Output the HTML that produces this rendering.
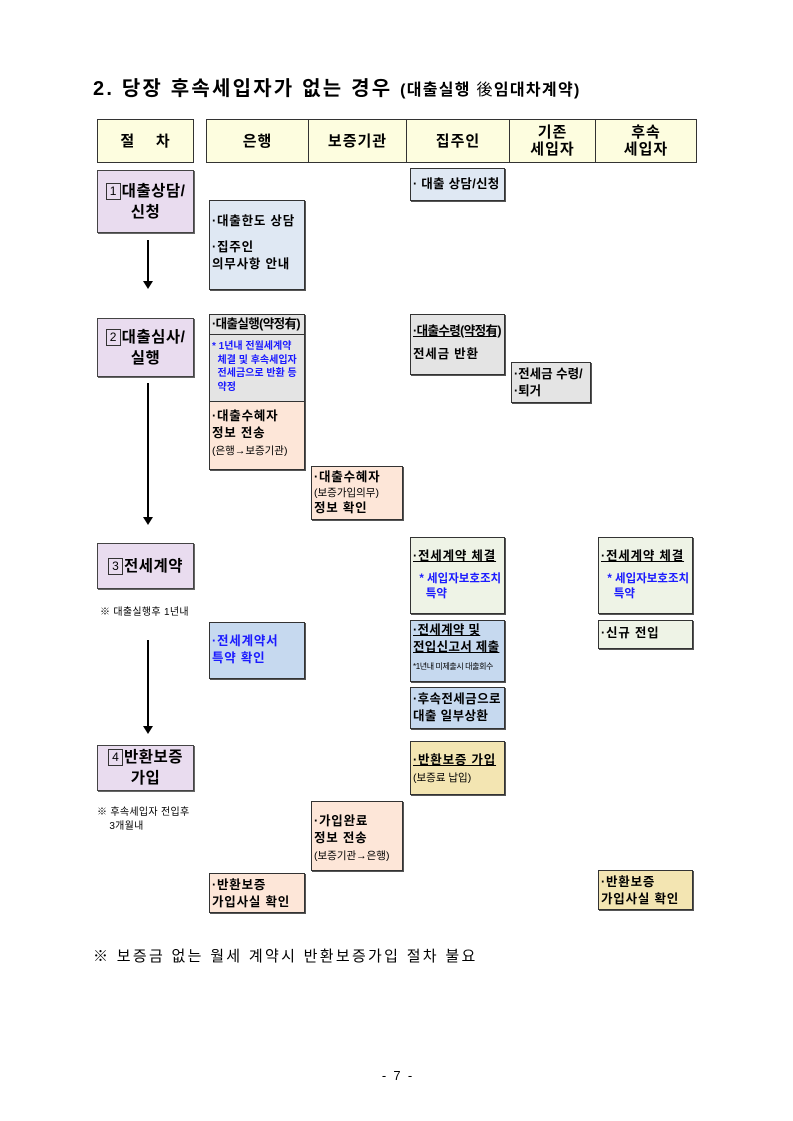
<!DOCTYPE html>
<html><head><meta charset="utf-8"><style>
body{margin:0;width:793px;height:1121px;background:#fff;position:relative;overflow:hidden;font-family:"Liberation Sans","Noto Sans CJK KR","NanumGothic",sans-serif;color:#000}
.a{position:absolute;box-sizing:border-box}
.b{position:absolute;box-sizing:border-box;border:1.5px solid #333;box-shadow:1px 1px 0 #555;font-weight:bold;font-size:12.5px;line-height:17px;padding:2px 2px;letter-spacing:0.8px;white-space:nowrap;overflow:hidden}
.h{position:absolute;box-sizing:border-box;border:1px solid #333;background:#fdfddf;font-weight:bold;font-size:15px;line-height:17px;display:flex;align-items:center;justify-content:center;text-align:center;letter-spacing:1px}
.s{position:absolute;box-sizing:border-box;border:1.5px solid #444;box-shadow:1px 1px 0 #666;background:#e9dcef;font-weight:bold;font-size:15.5px;line-height:21px;display:flex;align-items:center;justify-content:center;text-align:center;letter-spacing:0.5px}
.sm{font-size:10.5px;font-weight:normal;letter-spacing:0}
.bl{color:#1a1aff}
.u{text-decoration:underline}
.sq{display:inline-block;border:1px solid #333;width:13px;height:15px;line-height:15px;font-size:12px;font-weight:normal;text-align:center;margin-right:1px;vertical-align:1px;letter-spacing:0}
.ar{position:absolute;left:147px;width:1.5px;background:#000}
.ah{position:absolute;left:143px;width:0;height:0;border-left:5px solid transparent;border-right:5px solid transparent;border-top:8px solid #000}
</style></head><body>
<div class="a" style="left:93px;top:72px;font-size:20px;font-weight:bold;white-space:nowrap;letter-spacing:2.2px">2. 당장 후속세입자가 없는 경우 <span style="font-size:16px;letter-spacing:1.3px">(대출실행 <span style="font-weight:normal">後</span>임대차계약)</span></div>

<div class="h" style="left:97px;top:119px;width:97px;height:44px">절&nbsp;&nbsp;&nbsp;&nbsp;차</div>
<div class="h" style="left:206px;top:119px;width:103px;height:44px">은행</div>
<div class="h" style="left:308px;top:119px;width:99px;height:44px">보증기관</div>
<div class="h" style="left:406px;top:119px;width:104px;height:44px">집주인</div>
<div class="h" style="left:509px;top:119px;width:87px;height:44px">기존<br>세입자</div>
<div class="h" style="left:595px;top:119px;width:102px;height:44px">후속<br>세입자</div>

<div class="s" style="left:97px;top:170px;width:97px;height:63px"><div><span class="sq">1</span>대출상담/<br>신청</div></div>
<div class="s" style="left:97px;top:318px;width:97px;height:59px"><div><span class="sq">2</span>대출심사/<br>실행</div></div>
<div class="s" style="left:97px;top:543px;width:97px;height:46px"><div><span class="sq">3</span>전세계약</div></div>
<div class="s" style="left:97px;top:745px;width:97px;height:46px"><div><span class="sq">4</span>반환보증<br>가입</div></div>

<div class="ar" style="top:240px;height:42px"></div><div class="ah" style="top:281px"></div>
<div class="ar" style="top:383px;height:135px"></div><div class="ah" style="top:517px"></div>
<div class="ar" style="top:640px;height:87px"></div><div class="ah" style="top:726px"></div>

<div class="a" style="left:100px;top:603px;font-size:10px;letter-spacing:0.3px">※ 대출실행후 1년내</div>
<div class="a" style="left:97px;top:806px;font-size:10px;line-height:14px;letter-spacing:0.3px">※ 후속세입자 전입후<br>&nbsp;&nbsp;&nbsp;&nbsp;3개월내</div>

<div class="b" style="left:410px;top:168px;width:95px;height:33px;background:#dfe8f3;padding-top:7px;letter-spacing:0.3px">· 대출 상담/신청</div>
<div class="b" style="left:209px;top:200px;width:96px;height:90px;background:#dfe8f3;padding-top:12px">·대출한도 상담<div style="height:9px"></div>·집주인<br>의무사항 안내</div>

<div class="b" style="left:209px;top:314px;width:96px;height:156px;background:#fde6d8;padding:0">
 <div style="background:#e4e4e4;height:86px;border-bottom:1px solid #333"><div style="border-bottom:1px solid #333;padding:1px 2px;letter-spacing:-0.6px">·대출실행(약정有)</div><div class="bl" style="font-size:10px;line-height:13.5px;margin-top:5px;padding-left:2px;letter-spacing:0">* 1년내 전월세계약<br>&nbsp;&nbsp;체결 및 후속세입자<br>&nbsp;&nbsp;전세금으로 반환 등<br>&nbsp;&nbsp;약정</div></div>
 <div style="padding:6px 2px 0">·대출수혜자<br>정보 전송<br><span class="sm">(은행→보증기관)</span></div>
</div>

<div class="b" style="left:410px;top:314px;width:95px;height:61px;background:#e4e4e4;padding-top:8px"><span class="u" style="letter-spacing:-0.6px">·대출수령(약정有)</span><div style="height:6px"></div>전세금 반환</div>
<div class="b" style="left:511px;top:362px;width:80px;height:41px;background:#e4e4e4;padding-top:3px;letter-spacing:0">·전세금 수령/<br>·퇴거</div>
<div class="b" style="left:311px;top:466px;width:92px;height:54px;background:#fde6d8;line-height:15px;padding-top:3px">·대출수혜자<br><span class="sm">(보증가입의무)</span><br>정보 확인</div>

<div class="b" style="left:410px;top:537px;width:95px;height:77px;background:#eef3e6;padding-top:10px"><span class="u">·전세계약 체결</span><div class="bl" style="font-size:11.5px;line-height:15px;margin-top:7px;letter-spacing:0">&nbsp;&nbsp;*&nbsp;세입자보호조치<br>&nbsp;&nbsp;&nbsp;&nbsp;특약</div></div>
<div class="b" style="left:598px;top:537px;width:95px;height:77px;background:#eef3e6;padding-top:10px"><span class="u">·전세계약 체결</span><div class="bl" style="font-size:11.5px;line-height:15px;margin-top:7px;letter-spacing:0">&nbsp;&nbsp;*&nbsp;세입자보호조치<br>&nbsp;&nbsp;&nbsp;&nbsp;특약</div></div>

<div class="b bl" style="left:209px;top:622px;width:96px;height:57px;background:#c6d9ef;padding-top:10px">·전세계약서<br>특약 확인</div>
<div class="b" style="left:410px;top:620px;width:95px;height:62px;background:#c6d9ef;padding-top:1px;letter-spacing:0.3px"><span class="u">·전세계약 및</span><br><span class="u">전입신고서 제출</span><div style="font-size:8px;font-weight:normal;line-height:10px;margin-top:6px;letter-spacing:-0.4px">*1년내 미제출시 대출회수</div></div>
<div class="b" style="left:598px;top:620px;width:95px;height:29px;background:#eef3e6;padding-top:4px">·신규 전입</div>
<div class="b" style="left:410px;top:687px;width:95px;height:42px;background:#c6d9ef;padding-top:3px;letter-spacing:0.4px">·후속전세금으로<br>대출 일부상환</div>

<div class="b" style="left:410px;top:741px;width:95px;height:54px;background:#f3e5b2;padding-top:10px"><span class="u">·반환보증 가입</span><br><span class="sm">(보증료 납입)</span></div>
<div class="b" style="left:311px;top:801px;width:92px;height:70px;background:#fde6d8;padding-top:11px">·가입완료<br>정보 전송<br><span class="sm">(보증기관→은행)</span></div>
<div class="b" style="left:209px;top:873px;width:96px;height:40px;background:#fde6d8;padding-top:3px">·반환보증<br>가입사실 확인</div>
<div class="b" style="left:598px;top:870px;width:95px;height:40px;background:#f3e5b2;padding-top:3px">·반환보증<br>가입사실 확인</div>

<div class="a" style="left:93px;top:945px;font-size:15px;white-space:nowrap;letter-spacing:2.3px">※ 보증금 없는 월세 계약시 반환보증가입 절차 불요</div>
<div class="a" style="left:365px;top:1068px;width:64px;text-align:center;font-size:13px;white-space:pre">-  7  -</div>
</body></html>
